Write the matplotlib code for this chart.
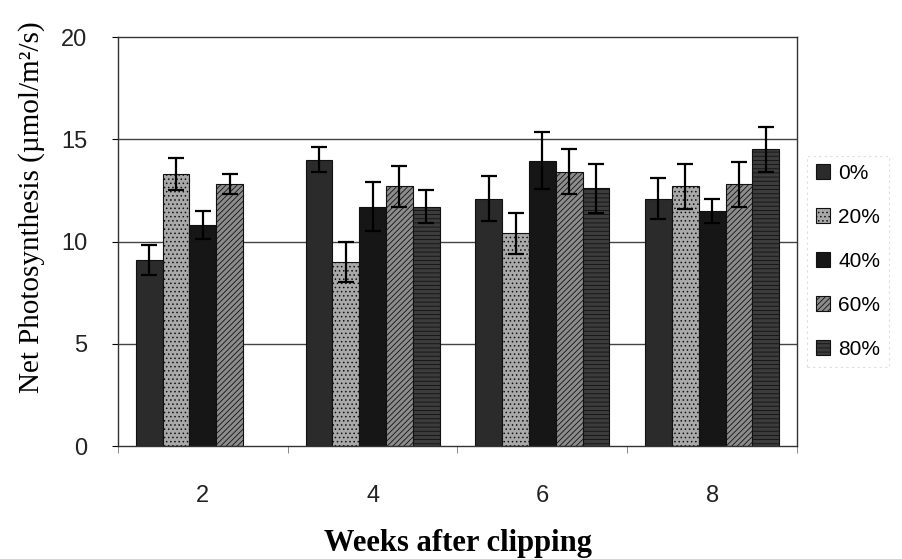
import matplotlib
matplotlib.use("Agg")
import matplotlib.pyplot as plt
import numpy as np

weeks = ["2", "4", "6", "8"]
levels = ["0%", "20%", "40%", "60%", "80%"]
values = {
    "0%":  [9.1, 14.0, 12.1, 12.1],
    "20%": [13.3, 9.0, 10.4, 12.7],
    "40%": [10.8, 11.7, 13.95, 11.5],
    "60%": [12.8, 12.7, 13.4, 12.8],
    "80%": [np.nan, 11.7, 12.6, 14.5],
}
errors = {
    "0%":  [0.75, 0.6, 1.1, 1.0],
    "20%": [0.8, 1.0, 1.0, 1.1],
    "40%": [0.7, 1.2, 1.4, 0.6],
    "60%": [0.5, 1.0, 1.1, 1.1],
    "80%": [np.nan, 0.8, 1.2, 1.1],
}
colors = {"0%": "#2b2b2b", "20%": "#a9a9a9", "40%": "#161616", "60%": "#8c8c8c", "80%": "#3c3c3c"}
hatches = {"0%": "", "20%": "....", "40%": "", "60%": "//////", "80%": "----"}

fig = plt.figure(figsize=(9.02, 5.59), dpi=100)
ax = fig.add_axes([0.1308, 0.2021, 0.7528, 0.7317])

x = np.arange(len(weeks))
w = 0.158
plt.rcParams['hatch.linewidth'] = 0.6
for i, lv in enumerate(levels):
    pos = x - 2 * w + i * w
    ax.bar(pos, values[lv], width=w, color=colors[lv], edgecolor="#111111",
           hatch=hatches[lv], linewidth=0.8, label=lv, zorder=2)
    ax.errorbar(pos, values[lv], yerr=errors[lv], fmt="none", ecolor="black",
                elinewidth=1.6, capsize=6, capthick=1.6, zorder=3)

ax.set_xlim(-0.5, 3.5)
ax.set_ylim(0, 20)
ax.set_yticks([0, 5, 10, 15, 20])
ax.set_xticks(x)
ax.set_xticklabels(weeks)
ax.set_xticks(np.arange(-0.5, 3.6, 1.0), minor=True)
ax.tick_params(axis="x", which="major", length=0, pad=28)
ax.tick_params(axis="x", which="minor", length=5, color="#777777")
ax.tick_params(axis="y", length=4, pad=18)
for lab in ax.get_xticklabels() + ax.get_yticklabels():
    lab.set_fontfamily("Liberation Sans")
    lab.set_fontsize(17)
    lab.set_color("#222222")
for yv in [5, 10, 15]:
    ax.axhline(yv, color="#444444", linewidth=1.0, zorder=1)
for s in ax.spines.values():
    s.set_color("#333333")
    s.set_linewidth(1.0)

ax.set_ylabel("Net Photosynthesis (\u00b5mol/m\u00b2/s)", fontfamily="Liberation Serif",
              fontsize=21)
ax.yaxis.set_label_coords(-0.108, 0.585)
ax.set_xlabel("Weeks after clipping", fontfamily="Liberation Serif", fontsize=22,
              fontweight="bold", labelpad=16)

leg = ax.legend(loc="upper left", bbox_to_anchor=(1.015, 0.71), frameon=True,
                prop={"family": "Liberation Sans", "size": 15}, handlelength=0.7,
                handleheight=0.7, labelspacing=1.2, handletextpad=0.4,
                borderaxespad=0.0, fancybox=False, edgecolor="#d5d5d5")
leg.get_frame().set_linestyle((0, (2, 3)))
leg.get_frame().set_linewidth(0.8)

fig.savefig("out.png", dpi=100)
